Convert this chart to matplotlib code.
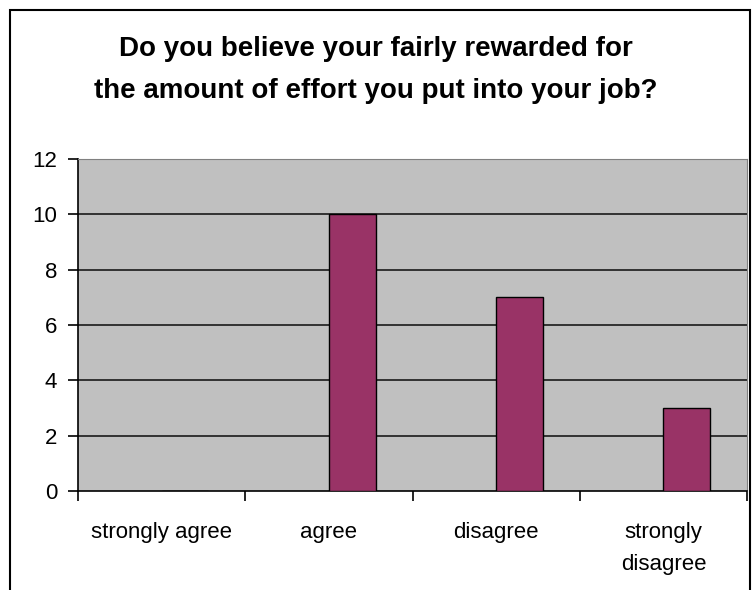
import numpy as np
import matplotlib
matplotlib.use("Agg")
import matplotlib.pyplot as plt
from matplotlib.patches import Rectangle

# Survey answers
categories = ['strongly agree', 'agree', 'disagree', 'strongly\ndisagree']
counts = [0, 10, 7, 3]
y_ticks = [0, 2, 4, 6, 8, 10, 12]

plt.rcParams['font.family'] = ['Liberation Sans', 'DejaVu Sans']

fig = plt.figure(figsize=(7.52, 5.90), dpi=100)
ax = fig.add_axes([78 / 752, 1 - 491 / 590, 669 / 752, 332 / 590])

# outer chart border (bottom edge runs off the image)
fig.patches.append(Rectangle((10 / 752, -0.2), 740 / 752, 1.2 - 10 / 590,
                             transform=fig.transFigure, fill=False,
                             edgecolor='black', linewidth=1.5))

ax.set_facecolor('#C0C0C0')
x = np.arange(len(categories))
ax.bar(x, counts, width=0.28, align='edge', color='#993366',
       edgecolor='black', linewidth=1.0, zorder=3)

ax.set_xlim(-0.5, len(categories) - 0.5)
ax.set_ylim(0, 12)
ax.set_yticks(y_ticks)
for yv in y_ticks[1:-1]:
    ax.axhline(yv, color='#1a1a1a', linewidth=1.2, zorder=2)

ax.set_xticks(x)
ax.set_xticklabels(categories, fontsize=16, linespacing=1.7)
ax.set_xticks(np.arange(len(categories) + 1) - 0.5, minor=True)
ax.tick_params(axis='x', which='major', length=0, pad=22)
ax.tick_params(axis='x', which='minor', length=7, width=1.2, color='black')
ax.tick_params(axis='y', length=7, width=1.2, pad=8, labelsize=16)

ax.spines['left'].set_color('black')
ax.spines['bottom'].set_color('black')
ax.spines['left'].set_linewidth(1.2)
ax.spines['bottom'].set_linewidth(1.2)
ax.spines['top'].set_color('#808080')
ax.spines['right'].set_color('#808080')

fig.text(0.5, 1 - 70 / 590,
         'Do you believe your fairly rewarded for\nthe amount of effort you put into your job?',
         ha='center', va='center', fontsize=20, fontweight='bold', linespacing=1.75)

fig.savefig('out.png', dpi=100)
